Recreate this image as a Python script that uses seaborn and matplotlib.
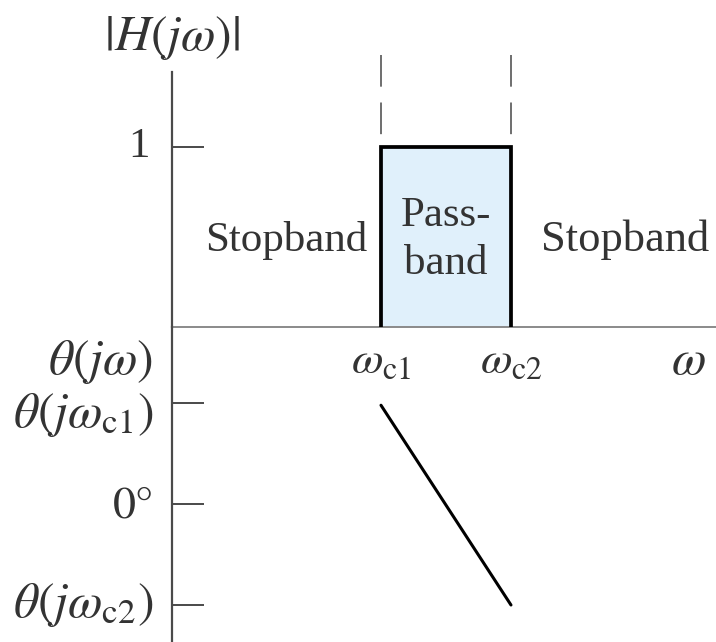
import matplotlib
matplotlib.use("Agg")
import matplotlib.pyplot as plt
import seaborn as sns
import pandas as pd

# ---- data ----
wc = [1.0, 1.622]                 # cutoff frequencies (omega_c1, omega_c2)
x_max = 2.603                     # right end of omega axis
mag_pass = 1.0                    # passband magnitude
phase_deg = [44.0, -45.0]         # phase at omega_c1 and omega_c2
phase_ticks = [45.0, 0.0, -45.0]
phase_tick_labels = [r"$\theta(j\omega_{\rm c1})$", r"$0°$", r"$\theta(j\omega_{\rm c2})$"]
band_labels = ["Stopband", "Pass-\nband", "Stopband"]

sns.set_theme(style="white")
plt.rcParams["font.family"] = ["Liberation Serif", "DejaVu Serif"]
plt.rcParams["mathtext.fontset"] = "stix"

W, H = 716, 642
fig = plt.figure(figsize=(W / 100, H / 100), dpi=100)
fig.patch.set_facecolor("white")

x0 = 172
ax_top = fig.add_axes([x0 / W, (H - 327) / H, (W - x0) / W, 327 / H])
ax_bot = fig.add_axes([x0 / W, 0, (W - x0) / W, (H - 327) / H])

axis_col = "#4a4a4a"
txt_col = "#333333"
fs = 31
fsm = 36

# ---------- magnitude ----------
ax_top.set_xlim(0, x_max)
ax_top.set_ylim(0, 327 / 180)
ax_top.set_facecolor("none")
for s in ["top", "right"]:
    ax_top.spines[s].set_visible(False)
ax_top.spines["left"].set_bounds(0, (327 - 72) / 180)
ax_top.spines["left"].set_color(axis_col)
ax_top.spines["left"].set_linewidth(1.6)
ax_top.spines["bottom"].set_color("#8a8a8a")
ax_top.spines["bottom"].set_linewidth(1.4)

ax_top.fill_between(wc, [mag_pass, mag_pass], 0, color="#e0f0fb", lw=0, zorder=1)
rect = pd.DataFrame({"w": [wc[0], wc[0], wc[1], wc[1]],
                     "m": [0, mag_pass, mag_pass, 0]})
sns.lineplot(data=rect, x="w", y="m", sort=False, estimator=None, errorbar=None,
             ax=ax_top, color="black", lw=2.7, zorder=3, solid_joinstyle="miter")
for w in wc:
    ax_top.plot([w, w], [(327 - 55) / 180, (327 - 135) / 180], color="#555555",
                lw=1.2, dashes=(19, 9.5), solid_capstyle="butt", zorder=2)

ax_top.set_yticks([mag_pass])
ax_top.set_yticklabels([])
ax_top.set_xticks([])
ax_top.tick_params(axis="y", direction="in", length=23, width=1.4, color=axis_col, left=True)
ax_top.set_xlabel("")
ax_top.set_ylabel("")

ax_top.text(-0.105, mag_pass, "1", fontsize=fs, ha="right", va="center", color=txt_col)
ax_top.text(0, (327 - 38) / 180, r"$|H(j\omega)|$", fontsize=fsm, ha="center", va="center",
            color=txt_col, clip_on=False)
ax_top.text(0.545, 0.483, band_labels[0], fontsize=fs, ha="center", va="center", color=txt_col)
ax_top.text((wc[0] + wc[1]) / 2, 0.483, band_labels[1], fontsize=fs, ha="center", va="center",
            color=txt_col, linespacing=1.32)
ax_top.text(2.17, 0.483, band_labels[2], fontsize=fs + 1, ha="center", va="center", color=txt_col,
            clip_on=False)

# ---------- phase ----------
ppd = 101 / 45
ax_bot.set_xlim(0, x_max)
ax_bot.set_ylim(-(H - 504) / ppd, (504 - 327) / ppd)
ax_bot.set_facecolor("none")
for s in ["top", "right", "bottom"]:
    ax_bot.spines[s].set_visible(False)
ax_bot.spines["left"].set_color(axis_col)
ax_bot.spines["left"].set_linewidth(1.6)

ph = pd.DataFrame({"w": wc, "p": phase_deg})
sns.lineplot(data=ph, x="w", y="p", estimator=None, errorbar=None, ax=ax_bot,
             color="black", lw=2.2, solid_capstyle="round")

ax_bot.set_yticks(phase_ticks)
ax_bot.set_yticklabels([])
ax_bot.set_xticks([])
ax_bot.tick_params(axis="y", direction="in", length=23, width=1.4, color=axis_col, left=True)
ax_bot.set_xlabel("")
ax_bot.set_ylabel("")

lab_y = [39.7, -0.9, -45.0]
lab_fs = [fsm, fs + 2, fsm]
for yv, lab, f in zip(lab_y, phase_tick_labels, lab_fs):
    ax_bot.text(-0.091, yv, lab, fontsize=f, ha="right", va="center", color=txt_col,
                clip_on=False)
y_lab = (504 - 362) / ppd
ax_bot.text(-0.091, y_lab, r"$\theta(j\omega)$", fontsize=fsm, ha="right", va="center",
            color=txt_col, clip_on=False)
ax_bot.text(wc[0], y_lab, r"$\omega_{\rm c1}$", fontsize=33, ha="center", va="center", color=txt_col)
ax_bot.text(wc[1], y_lab, r"$\omega_{\rm c2}$", fontsize=33, ha="center", va="center", color=txt_col)
ax_bot.text((688 - x0) / 209, y_lab, r"$\omega$", fontsize=fsm, ha="center", va="center", color=txt_col)

fig.savefig("out.png", dpi=100, facecolor="white")
